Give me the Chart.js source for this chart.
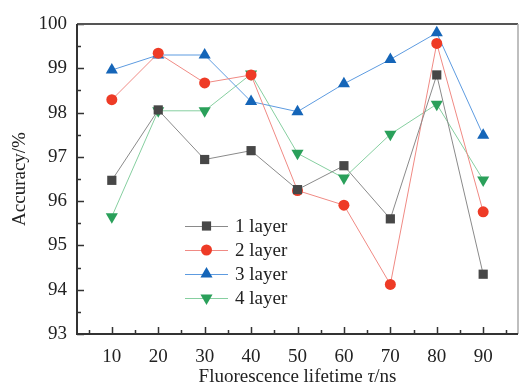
<!DOCTYPE html>
<html>
<head>
<meta charset="utf-8">
<script src="https://cdn.jsdelivr.net/npm/chart.js@4/dist/chart.umd.min.js"></script>
<style>
  html, body { margin: 0; padding: 0; background: #fff; }
  #wrap { width: 525px; height: 391px; }
</style>
</head>
<body>
<div id="wrap"><canvas id="lifetimeChart" width="525" height="391"></canvas></div>
<script>
var lifetimes = [10, 20, 30, 40, 50, 60, 70, 80, 90];
var layer1 = [96.47, 98.06, 96.94, 97.14, 96.26, 96.80, 95.60, 98.85, 94.35];
var layer2 = [98.29, 99.34, 98.67, 98.85, 96.24, 95.91, 94.12, 99.56, 95.76];
var layer3 = [98.96, 99.30, 99.30, 98.25, 98.02, 98.65, 99.20, 99.80, 97.49];
var layer4 = [95.65, 98.04, 98.04, 98.87, 97.08, 96.52, 97.51, 98.19, 96.48];
var seriesNames = ['1 layer', '2 layer', '3 layer', '4 layer'];
var xTicks = [10, 20, 30, 40, 50, 60, 70, 80, 90];
var yTicks = [93, 94, 95, 96, 97, 98, 99, 100];

var SERIF = '"Liberation Serif", "DejaVu Serif", serif';

function pts(vals) {
  return vals.map(function (v, i) { return { x: lifetimes[i], y: v }; });
}

function series(name, vals, line, fill, style, radius, rot) {
  return {
    label: name,
    data: pts(vals),
    borderColor: line,
    borderWidth: 1,
    backgroundColor: fill,
    pointBackgroundColor: fill,
    pointBorderColor: fill,
    pointBorderWidth: 0,
    pointStyle: style,
    pointRadius: radius,
    pointRotation: rot || 0,
    tension: 0
  };
}

// frame, inward ticks, legend and axis titles
var decor = {
  id: 'decor',
  afterDraw: function (chart) {
    var c = chart.ctx, a = chart.chartArea;
    var xs = chart.scales.x, ys = chart.scales.y;
    c.save();

    // ticks pointing into the plot
    c.strokeStyle = '#333';
    c.lineWidth = 1.5;
    c.beginPath();
    for (var v = 5; v <= 95; v += 5) {
      var px = Math.round(xs.getPixelForValue(v)) + 0.5;
      var len = (v % 10 === 0) ? 7 : 4;
      c.moveTo(px, a.bottom); c.lineTo(px, a.bottom - len);
    }
    for (var k = 0; k <= 14; k++) {
      var val = 93 + k * 0.5;
      var py = Math.round(ys.getPixelForValue(val)) + 0.5;
      var l2 = (k % 2 === 0) ? 7 : 4;
      c.moveTo(a.left, py); c.lineTo(a.left + l2, py);
    }
    c.stroke();

    // box
    c.lineWidth = 2;
    c.strokeStyle = '#555';
    c.beginPath(); c.moveTo(a.left, a.top); c.lineTo(a.right, a.top); c.stroke();
    c.strokeStyle = '#aaa';
    c.lineWidth = 1.5;
    c.beginPath(); c.moveTo(a.right, a.top); c.lineTo(a.right, a.bottom); c.stroke();
    c.strokeStyle = '#333';
    c.lineWidth = 2;
    c.beginPath();
    c.moveTo(a.left, a.top); c.lineTo(a.left, a.bottom); c.lineTo(a.right, a.bottom);
    c.stroke();

    // legend
    var lx = 185, ly = 226, gap = 24;
    chart.data.datasets.forEach(function (ds, i) {
      var y = ly + i * gap;
      c.strokeStyle = ds.borderColor;
      c.lineWidth = 1;
      c.beginPath(); c.moveTo(lx, y + 0.5); c.lineTo(lx + 43, y + 0.5); c.stroke();
      c.fillStyle = ds.pointBackgroundColor;
      c.strokeStyle = ds.pointBorderColor;
      Chart.helpers.drawPoint(c, {
        pointStyle: ds.pointStyle, radius: ds.pointRadius,
        rotation: ds.pointRotation, borderWidth: 0
      }, lx + 21.5, y);
      c.fillStyle = '#222';
      c.font = '19px ' + SERIF;
      c.textAlign = 'left';
      c.textBaseline = 'middle';
      c.fillText(ds.label, lx + 50, y + 1);
    });

    // x axis title with italic tau
    var parts = [['Fluorescence lifetime ', ''], ['\u03c4', 'italic '], ['/ns', '']];
    var total = 0;
    parts.forEach(function (p) { c.font = p[1] + '19px ' + SERIF; total += c.measureText(p[0]).width; });
    var tx = (a.left + a.right) / 2 - total / 2;
    c.fillStyle = '#222';
    c.textAlign = 'left';
    c.textBaseline = 'middle';
    parts.forEach(function (p) {
      c.font = p[1] + '19px ' + SERIF;
      c.fillText(p[0], tx, 377);
      tx += c.measureText(p[0]).width;
    });

    // y axis title
    c.translate(20, (a.top + a.bottom) / 2);
    c.rotate(-Math.PI / 2);
    c.font = '19px ' + SERIF;
    c.textAlign = 'center';
    c.fillText('Accuracy/%', 0, 0);
    c.restore();
  }
};

new Chart(document.getElementById('lifetimeChart'), {
  type: 'line',
  data: {
    datasets: [
      series(seriesNames[0], layer1, '#8a8a8a', '#474747', 'rect', 6.5),
      series(seriesNames[1], layer2, '#f08a84', '#ee3b26', 'circle', 5.5),
      series(seriesNames[2], layer3, '#5d9be0', '#1565b8', 'triangle', 7),
      series(seriesNames[3], layer4, '#86cfa0', '#2aa05a', 'triangle', 7, 180)
    ]
  },
  options: {
    responsive: false,
    animation: false,
    layout: { padding: { top: 24, right: 1, left: 0, bottom: 0 } },
    plugins: { legend: { display: false }, tooltip: { enabled: false } },
    scales: {
      x: {
        type: 'linear',
        min: 2.5,
        max: 97.5,
        afterBuildTicks: function (s) { s.ticks = xTicks.map(function (v) { return { value: v }; }); },
        afterFit: function (s) { s.height = 57; },
        grid: { display: false, drawTicks: false },
        border: { display: false },
        ticks: { padding: 12, color: '#222', font: { family: SERIF, size: 19 }, maxRotation: 0, autoSkip: false }
      },
      y: {
        min: 93,
        max: 100,
        afterBuildTicks: function (s) { s.ticks = yTicks.map(function (v) { return { value: v }; }); },
        afterFit: function (s) { s.width = 77; },
        grid: { display: false, drawTicks: false },
        border: { display: false },
        ticks: { padding: 10, color: '#222', font: { family: SERIF, size: 19 } }
      }
    }
  },
  plugins: [decor]
});
</script>
</body>
</html>
